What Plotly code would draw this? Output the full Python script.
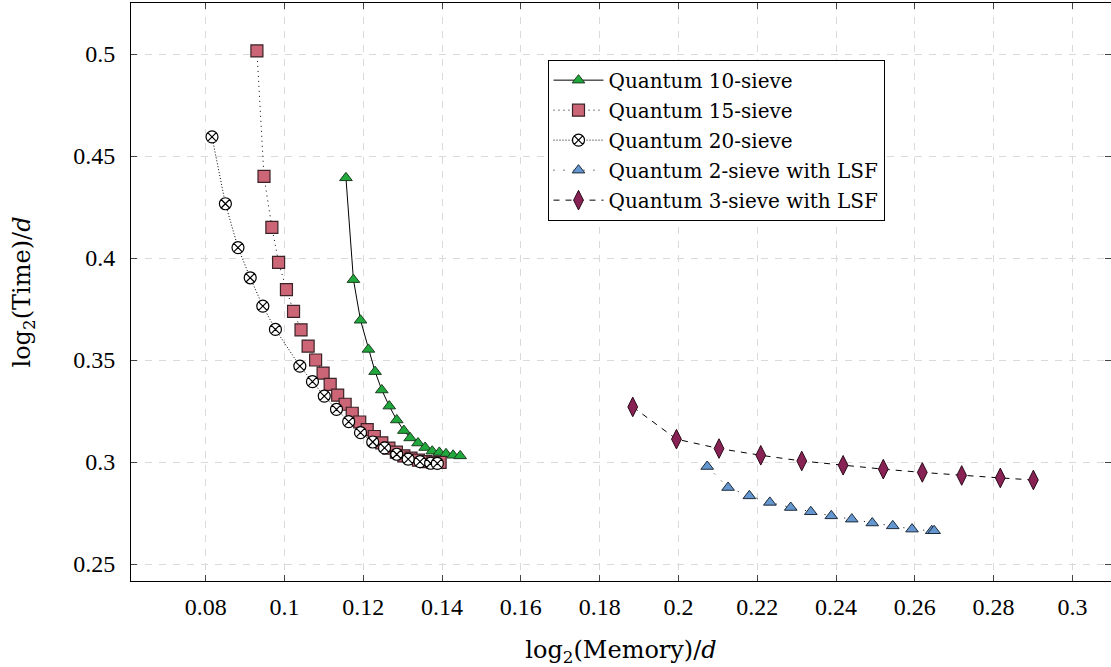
import plotly.graph_objects as go

# ---- data ----
q10_x = [0.1156, 0.1175, 0.1193, 0.1213, 0.1230, 0.1247, 0.1266, 0.1285, 0.1303,
         0.1319, 0.1339, 0.1357, 0.1375, 0.1393, 0.1410, 0.1428, 0.1446]
q10_y = [0.4393, 0.3894, 0.3695, 0.3552, 0.3443, 0.3353, 0.3274, 0.3206, 0.3154,
         0.3118, 0.3093, 0.3071, 0.3053, 0.3047, 0.3040, 0.3033, 0.3030]

q15_x = [0.0930, 0.0948, 0.0968, 0.0985, 0.1005, 0.1023, 0.1042, 0.1060, 0.1079,
         0.1098, 0.1116, 0.1135, 0.1154, 0.1172, 0.1191, 0.1210, 0.1228, 0.1247,
         0.1265, 0.1284, 0.1303, 0.1321, 0.1340, 0.1358, 0.1377, 0.1395]
q15_y = [0.5015, 0.4400, 0.4150, 0.3979, 0.3845, 0.3738, 0.3648, 0.3568, 0.3500,
         0.3436, 0.3381, 0.3328, 0.3283, 0.3239, 0.3196, 0.3159, 0.3125, 0.3094,
         0.3068, 0.3048, 0.3030, 0.3019, 0.3009, 0.3002, 0.2999, 0.2998]

q20_x = [0.0816, 0.0850, 0.0882, 0.0913, 0.0945, 0.0977, 0.1039, 0.1071, 0.1101,
         0.1132, 0.1163, 0.1193, 0.1224, 0.1254, 0.1285, 0.1314, 0.1344, 0.1371, 0.1388]
q20_y = [0.4594, 0.4266, 0.4051, 0.3903, 0.3764, 0.3650, 0.3470, 0.3394, 0.3323,
         0.3258, 0.3198, 0.3144, 0.3098, 0.3069, 0.3038, 0.3014, 0.3002, 0.2994, 0.2993]

lsf2_x = [0.2073, 0.2126, 0.2180, 0.2232, 0.2285, 0.2336, 0.2388, 0.2440, 0.2492,
          0.2544, 0.2593, 0.2643, 0.2649]
lsf2_y = [0.2978, 0.2875, 0.2834, 0.2802, 0.2777, 0.2756, 0.2736, 0.2720, 0.2701,
          0.2687, 0.2671, 0.2663, 0.2663]

lsf3_x = [0.1884, 0.1995, 0.2103, 0.2209, 0.2313, 0.2418, 0.2520, 0.2619, 0.2719,
          0.2817, 0.2901]
lsf3_y = [0.3270, 0.3112, 0.3066, 0.3033, 0.3005, 0.2984, 0.2965, 0.2949, 0.2934,
          0.2922, 0.2912]

x_tickvals = [0.08, 0.10, 0.12, 0.14, 0.16, 0.18, 0.20, 0.22, 0.24, 0.26, 0.28, 0.30]
x_ticktext = ["0.08", "0.1", "0.12", "0.14", "0.16", "0.18", "0.2", "0.22", "0.24", "0.26", "0.28", "0.3"]
y_tickvals = [0.25, 0.30, 0.35, 0.40, 0.45, 0.50]
y_ticktext = ["0.25", "0.3", "0.35", "0.4", "0.45", "0.5"]

FONT = "'Liberation Serif', 'DejaVu Serif', serif"
FONT2 = "'DejaVu Serif', 'Liberation Serif', serif"

fig = go.Figure()

fig.add_trace(go.Scatter(
    x=q10_x, y=q10_y, name="Quantum 10-sieve", mode="lines+markers",
    legendgroup="a",
    line=dict(color="black", width=1),
    marker=dict(symbol="triangle-up", size=11, color="#21a83c",
                line=dict(color="#1a3d1f", width=1))))
fig.add_trace(go.Scatter(
    x=q15_x, y=q15_y, name="Quantum 15-sieve", mode="lines+markers",
    legendgroup="b",
    line=dict(color="black", width=1, dash="1px,4px"),
    marker=dict(symbol="square", size=12, color="#cc6677",
                line=dict(color="#3a2226", width=1.2))))
fig.add_trace(go.Scatter(
    x=q20_x, y=q20_y, name="Quantum 20-sieve", mode="lines+markers",
    legendgroup="c",
    line=dict(color="black", width=1, dash="1px,2px"),
    marker=dict(symbol="circle-x", size=12, color="white",
                line=dict(color="black", width=1.2))))
fig.add_trace(go.Scatter(
    x=lsf2_x, y=lsf2_y, name="Quantum 2-sieve with LSF", mode="lines+markers",
    legendgroup="d",
    line=dict(color="black", width=1, dash="1px,9px"),
    marker=dict(symbol="triangle-up", size=11, color="#6497cf",
                line=dict(color="#1c2a3a", width=1))))
fig.add_trace(go.Scatter(
    x=lsf3_x, y=lsf3_y, name="Quantum 3-sieve with LSF", mode="lines+markers",
    legendgroup="e",
    line=dict(color="black", width=1, dash="6px,6px"),
    marker=dict(symbol="diamond-tall", size=14, color="#882255",
                line=dict(color="#2a0a18", width=1))))

axis_common = dict(
    showline=True, linecolor="black", linewidth=1, mirror="allticks",
    ticks="inside", ticklen=6, tickcolor="#444", tickwidth=1,
    showgrid=True, gridcolor="#dadada", gridwidth=1.3, griddash="7px,7px",
    zeroline=False, tickfont=dict(family=FONT, size=24, color="black"),
)

fig.update_xaxes(
    range=[0.06104, 0.3098], tickvals=x_tickvals, ticktext=x_ticktext,
    ticklabelstandoff=4,
    title=dict(text="log<sub>2</sub>(Memory)/<i>d</i>",
               font=dict(family=FONT2, size=24, color="black"), standoff=22),
    **axis_common)
fig.update_yaxes(
    range=[0.24167, 0.525], tickvals=y_tickvals, ticktext=y_ticktext,
    ticklabelstandoff=10,
    title=dict(text="log<sub>2</sub>(Time)/<i>d</i>",
               font=dict(family=FONT2, size=24, color="black"), standoff=35),
    **axis_common)

fig.update_layout(
    width=1111, height=667,
    margin=dict(l=131, r=0, t=3, b=86),
    paper_bgcolor="white", plot_bgcolor="white",
    font=dict(family=FONT, color="black"),
    legend=dict(
        x=0.425, y=0.902, xanchor="left", yanchor="top",
        bgcolor="white", bordercolor="black", borderwidth=1,
        font=dict(family=FONT2, size=20, color="black"),
        itemwidth=50, tracegroupgap=1,
    ),
    showlegend=True,
)

fig.write_html("out.html")
